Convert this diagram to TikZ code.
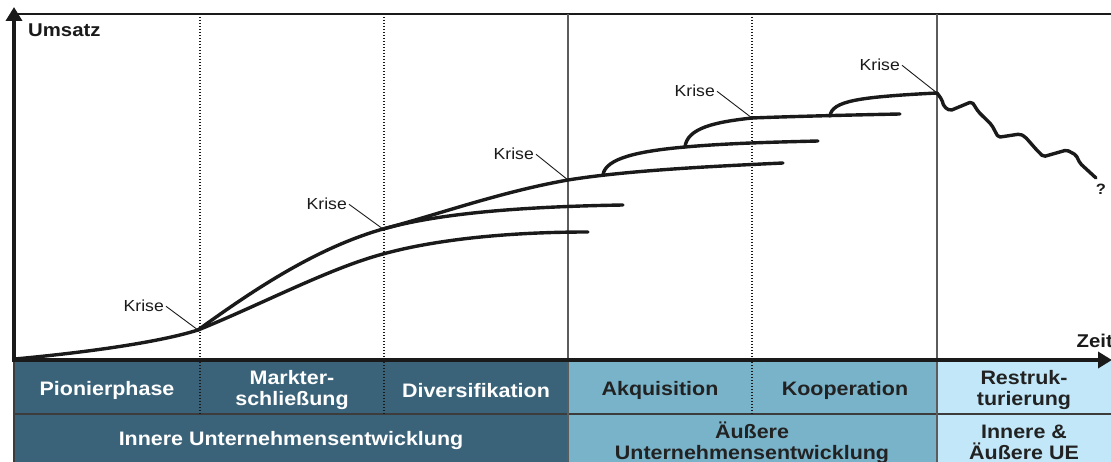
\documentclass[tikz,border=0pt]{standalone}
\usepackage{fontspec}
\setmainfont{Liberation Sans}[FakeStretch=1.1]
\usetikzlibrary{arrows.meta}
\definecolor{bandDark}{HTML}{3A6379}
\definecolor{bandMid}{HTML}{78B3C9}
\definecolor{bandLight}{HTML}{C1E7F8}
\definecolor{ink}{HTML}{1A1A1A}
\definecolor{darktext}{HTML}{222222}
\definecolor{sepgrey}{HTML}{5C5C5C}

\begin{document}
\begin{tikzpicture}[x=1pt,y=-1pt,
  curve/.style={line width=3.4pt, draw=ink, line cap=round, line join=round},
  leader/.style={line width=0.9pt, draw=ink},
  krise/.style={font=\fontsize{16}{18}\selectfont, inner sep=2pt, anchor=base east, text=ink},
  axisline/.style={line width=4.5pt, draw=ink, -{Triangle[width=16pt,length=14pt]}},
  phaseline/.style={dash pattern=on 1.2pt off 1.8pt, line width=1.3pt, draw=ink},
  sepline/.style={line width=2pt, draw=sepgrey},
  bandtext/.style={font=\bfseries\fontsize{19.5}{21}\selectfont, align=center, inner sep=0pt},
  axislabel/.style={font=\bfseries\fontsize{18.5}{20}\selectfont, text=ink, inner sep=0pt},
]
\useasboundingbox (0,0) rectangle (1111,462);

% ---- coloured phase bands
\fill[bandDark]  (14,361) rectangle (568,462);
\fill[bandMid]   (568,361) rectangle (937,462);
\fill[bandLight] (937,361) rectangle (1111,462);
\draw[line width=1.5pt, draw=ink!85] (14,414) -- (1111,414);
\draw[line width=1.5pt, draw=ink!85] (14,361) -- (14,462);

% ---- frame line and phase separators
\draw[line width=1.5pt, draw=ink] (14,14) -- (1111,14);
\foreach \px in {200,384,752} \draw[phaseline] (\px,14) -- (\px,414);
\foreach \px in {568,937} \draw[sepline] (\px,14) -- (\px,462);

% ---- axes
\draw[axisline] (14,362) -- (14,7);
\draw[axisline] (12,360) -- (1112,360);
\node[axislabel, anchor=base west] (umsatz) at (28,37) {Umsatz};
\node[axislabel, anchor=base east] (zeit) at (1113,348) {Zeit};

% ---- crisis points and branch points
\coordinate (o)  at (15,359);
\coordinate (c1) at (198,330);
\coordinate (c2) at (383,229);
\coordinate (c3) at (568,180);
\coordinate (c4) at (752,118);
\coordinate (c5) at (937,93);
\coordinate (b1) at (603,175);
\coordinate (b2) at (685,147);
\coordinate (b3) at (830,116);

% ---- growth curves
\draw[curve] (o) .. controls (90,352) and (160,342) .. (c1);
\draw[curve] (c1) .. controls (260,285) and (320,247) .. (c2)
  .. controls (440,214) and (500,192) .. (c3)
  .. controls (630,170) and (720,166) .. (783,163);
\draw[curve] (c2) .. controls (430,216) and (500,207) .. (623,205);
\draw[curve] (c1) .. controls (260,305) and (330,268) .. (383,254)
  .. controls (430,241) and (500,232) .. (588,232);
\draw[curve] (b1) .. controls (605,158) and (640,151) .. (b2)
  .. controls (730,143) and (780,142) .. (818,141);
\draw[curve] (b2) .. controls (687,128) and (715,122) .. (c4)
  .. controls (790,116.5) and (850,115) .. (900,114);
\draw[curve] (b3) .. controls (832,101) and (858,97) .. (c5)
  [rounded corners=2pt] -- (941.7,99.3) -- (944,106.7) -- (950,110.7)
  -- (971.7,101.7) -- (974,105) -- (978.3,111.7) -- (991.7,125)
  -- (998.3,137.3) -- (1020,134) -- (1025,136.7) -- (1036.7,150)
  -- (1043.3,156.7) -- (1066.7,150) -- (1076,155) -- (1080,163.3)
  -- (1096,178);
\node[font=\bfseries\fontsize{15}{17}\selectfont, text=ink, inner sep=0pt] (q) at (1101,189) {?};

% ---- crisis labels
\node[krise] (k1) at (166,312) {Krise};
\node[krise] (k2) at (349,210) {Krise};
\node[krise] (k3) at (536,160) {Krise};
\node[krise] (k4) at (717,97)  {Krise};
\node[krise] (k5) at (902,71)  {Krise};
\draw[leader] (k1.east) -- (c1);
\draw[leader] (k2.east) -- (c2);
\draw[leader] (k3.east) -- (c3);
\draw[leader] (k4.east) -- (c4);
\draw[leader] (k5.east) -- (c5);

% ---- band texts
\node[bandtext, text=white] (pion) at (107,390.5) {Pionierphase};
\node[bandtext, text=white] (markt) at (292,390) {Markter-\\schließung};
\node[bandtext, text=white] (div) at (476,390.5) {Diversifikation};
\node[bandtext, text=darktext] (akq) at (660,390.5) {Akquisition};
\node[bandtext, text=darktext] (koop) at (845,390.5) {Kooperation};
\node[bandtext, text=darktext] (restr) at (1024,390) {Restruk-\\turierung};
\node[bandtext, text=white] (inner) at (291,440.5) {Innere Unternehmensentwicklung};
\node[bandtext, text=darktext] (outer) at (752,442.5) {Äußere\\Unternehmensentwicklung};
\node[bandtext, text=darktext] (both) at (1024,442.5) {Innere \&\\Äußere UE};
\end{tikzpicture}
\end{document}
